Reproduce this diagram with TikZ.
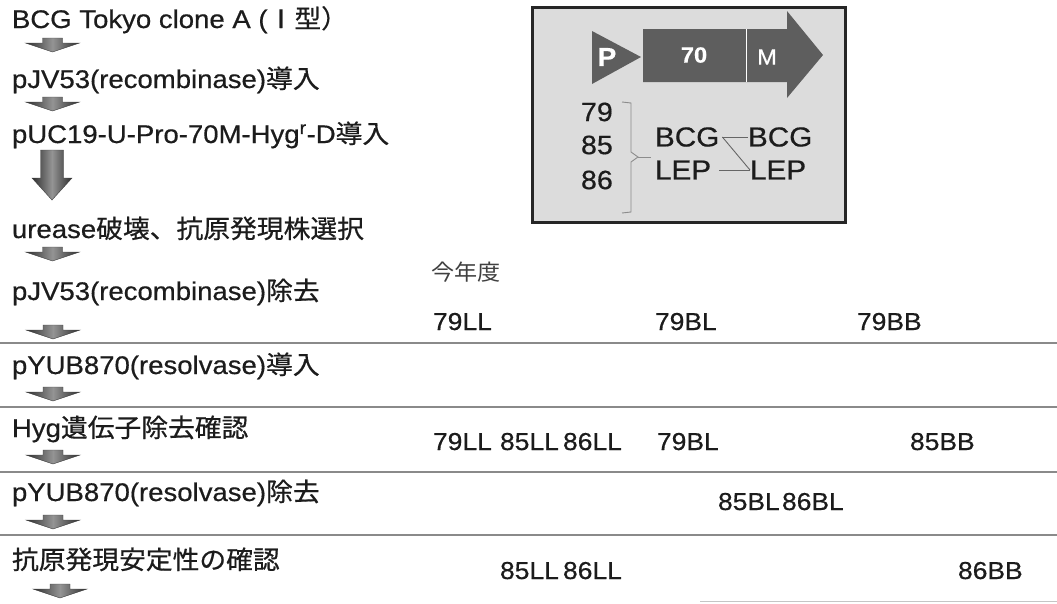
\documentclass[tikz,border=0pt]{standalone}
\usepackage{fontspec}
\setmainfont{Liberation Sans}[FakeStretch=1.08,FakeBold=0.5]
\newfontfamily\jp{Noto Sans CJK JP}[FakeStretch=1.05,FakeBold=0.6]
\newfontfamily\jplight{Noto Sans CJK JP}[FakeStretch=1.05]
\definecolor{ink}{HTML}{1C1C1C}
\definecolor{rulegray}{HTML}{8A8A8A}
\definecolor{boxfill}{HTML}{DCDCDC}
\definecolor{boxline}{HTML}{262626}
\definecolor{dark}{HTML}{5E5E5E}
\begin{document}
\begin{tikzpicture}[x=1pt,y=-1pt,
  every node/.style={inner sep=0pt,outer sep=0pt,text=ink},
  lbl/.style={anchor=base west,font=\fontsize{25.5}{25.5}\selectfont},
  rlbl/.style={anchor=base west,font=\fontsize{24.5}{24.5}\selectfont},
  boxlbl/.style={anchor=west,font=\fontsize{27.5}{27.5}\selectfont},
  numlbl/.style={anchor=west,font=\fontsize{26.5}{26.5}\selectfont},
  rulestyle/.style={draw=rulegray,line width=1.3pt},
  arrowshade/.style={left color=black!82,right color=black!82,middle color=black!42,draw=black!75,line width=0.4pt},
  flatarrow/.pic={\path[arrowshade] (-10,0) -- (10,0) -- (10,5) -- (27,5) -- (0,14) -- (-27,5) -- (-10,5) -- cycle;},
  bigarrow/.pic={\path[arrowshade] (-11.5,0) -- (11.5,0) -- (11.5,28) -- (20,28) -- (0,50) -- (-20,28) -- (-11.5,28) -- cycle;},
  thin/.style={draw=black!60,line width=0.9pt}
]
\useasboundingbox (0,0) rectangle (1057,603);
\fill[white] (0,0) rectangle (1057,603);

% horizontal rules
\draw[rulestyle] (0,343) -- (1057,343);
\draw[rulestyle] (0,407) -- (1057,407);
\draw[rulestyle] (0,472) -- (1057,472);
\draw[rulestyle] (0,535) -- (1057,535);
\draw[draw=rulegray!50,line width=1pt] (700,601) -- (1057,601);

% left column
\node[lbl] (t1) at (12,28) {BCG Tokyo clone A ({\jp Ⅰ型）}};
\pic at (52.5,38) {flatarrow};
\node[lbl] (t2) at (12,88) {pJV53(recombinase){\jp 導入}};
\pic at (52.5,97) {flatarrow};
\node[lbl] (t3) at (12,143) {pUC19-U-Pro-70M-Hyg\textsuperscript{r}-D{\jp 導入}};
\pic at (52,150) {bigarrow};
\node[lbl] (t4) at (12,238) {urease{\jp 破壊、抗原発現株選択}};
\pic at (52.5,247) {flatarrow};
\node[lbl] (t5) at (12,300) {pJV53(recombinase){\jp 除去}};
\pic at (53,325) {flatarrow};
\node[lbl] (t6) at (12,374) {pYUB870(resolvase){\jp 導入}};
\pic at (53,387) {flatarrow};
\node[lbl] (t7) at (12,437) {Hyg{\jp 遺伝子除去確認}};
\pic at (53,450) {flatarrow};
\node[lbl] (t8) at (12,501) {pYUB870(resolvase){\jp 除去}};
\pic at (53,515) {flatarrow};
\node[lbl] (t9) at (12,569) {\jp 抗原発現安定性の確認};
\pic at (60,584) {flatarrow};

% right column
\node[anchor=base west,font=\jplight\fontsize{22}{22}\selectfont,text=black!75] (year) at (431,280) {今年度};
\node[rlbl] (r1a) at (433,330) {79LL};
\node[rlbl] (r1b) at (655,330) {79BL};
\node[rlbl] (r1c) at (857,330) {79BB};
\node[rlbl] (r2a) at (433,450) {79LL};
\node[rlbl] (r2b) at (500,450) {85LL};
\node[rlbl] (r2c) at (563,450) {86LL};
\node[rlbl] (r2d) at (657,450) {79BL};
\node[rlbl] (r2e) at (910,450) {85BB};
\node[rlbl] (r3a) at (718,510) {85BL};
\node[rlbl] (r3b) at (782,510) {86BL};
\node[rlbl] (r4a) at (500,579) {85LL};
\node[rlbl] (r4b) at (563,579) {86LL};
\node[rlbl] (r4c) at (958,579) {86BB};

% inset box
\draw[fill=boxfill,draw=boxline,line width=3pt] (532,7) rectangle (845,222);
\fill[dark] (592,31) -- (641,57) -- (592,84) -- cycle;
\node[font=\bfseries\fontsize{26}{26}\selectfont,text=white] (P) at (607,57) {P};
\fill[dark] (643,29) -- (787,29) -- (787,11) -- (823,55) -- (787,98) -- (787,82) -- (643,82) -- cycle;
\draw[white,line width=0.8pt] (746,29) -- (746,82);
\node[font=\bfseries\fontsize{22}{22}\selectfont,text=white] (n70) at (694,55) {70};
\node[font=\fontsize{22}{22}\selectfont,text=white] (M) at (767,57) {M};

\node[numlbl] (n79) at (581,112) {79};
\node[numlbl] (n85) at (581,145) {85};
\node[numlbl] (n86) at (581,180) {86};
\draw[thin,draw=black!45] (622,102) -- (631,103) -- (631,152) -- (638,157) -- (631,162) -- (631,212) -- (622,213);
\coordinate (bt) at (638,157);
\coordinate (bt2) at (651,157);
\draw[thin,draw=black!45] (bt) -- (bt2);

\node[boxlbl] (bcgL) at (655,137) {BCG};
\node[boxlbl] (lepL) at (655,170) {LEP};
\node[boxlbl] (bcgR) at (748,137) {BCG};
\node[boxlbl] (lepR) at (750,170) {LEP};
\draw[thin] ([xshift=3pt]bcgL.east) -- (bcgR.west);
\draw[thin] ([xshift=3pt]bcgL.east) -- (lepR.west);
\draw[thin] ([xshift=8pt]lepL.east) -- (lepR.west);
\end{tikzpicture}
\end{document}
